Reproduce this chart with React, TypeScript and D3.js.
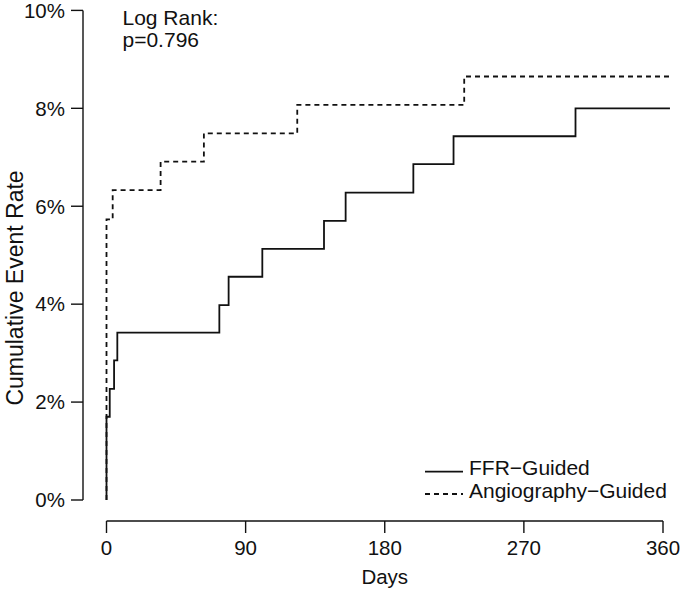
import React from "react";
import * as d3 from "d3";

// ---- Data ----
const ffrDays = [0, 2.1, 4.9, 7.0, 73, 79, 100.8, 140.7, 154.7, 198.5, 224.5, 303.4];
const ffrRates = [1.7, 2.27, 2.85, 3.42, 3.98, 4.56, 5.13, 5.7, 6.28, 6.86, 7.43, 8.0];
const ffrEnd = 364.5;

const angioDays = [0, 4.0, 35, 63, 123.4, 231.4];
const angioRates = [5.73, 6.33, 6.91, 7.49, 8.07, 8.65];
const angioEnd = 364;

const xTicks = [0, 90, 180, 270, 360];
const yTicks = [0, 2, 4, 6, 8, 10];
const yTickLabels = ["0%", "2%", "4%", "6%", "8%", "10%"];

const seriesNames = ["FFR\u2212Guided", "Angiography\u2212Guided"];
const annotation = ["Log Rank:", "p=0.796"];

const FONT = "'Liberation Sans', Arial, Helvetica, sans-serif";

function stepPoints(days: number[], rates: number[], end: number): [number, number][] {
  const pts: [number, number][] = [[0, 0]];
  days.forEach((d, i) => pts.push([d, rates[i]]));
  pts.push([end, rates[rates.length - 1]]);
  return pts;
}

export default function App() {
  const W = 681;
  const H = 591;
  const x = d3.scaleLinear().domain([0, 360]).range([106.5, 663]);
  const y = d3.scaleLinear().domain([0, 10]).range([500, 10.4]);
  const axisX = 83;
  const axisY = 521;
  const tickLen = 12;

  const line = d3
    .line<[number, number]>()
    .x((d) => x(d[0]))
    .y((d) => y(d[1]))
    .curve(d3.curveStepAfter);

  const ffrPath = line(stepPoints(ffrDays, ffrRates, ffrEnd)) || "";
  const angioPath = line(stepPoints(angioDays, angioRates, angioEnd)) || "";

  const stroke = "#111";
  const fs = 20.5;

  return (
    <svg
      width={W}
      height={H}
      style={{ position: "absolute", left: 0, top: 0, background: "#fff" }}
      fontFamily={FONT}
    >
      <rect x={0} y={0} width={W} height={H} fill="#fff" />
      {/* Y axis */}
      <line x1={axisX} x2={axisX} y1={y(0)} y2={y(10)} stroke={stroke} strokeWidth={1.4} />
      {yTicks.map((t, i) => (
        <g key={"yt" + t}>
          <line x1={axisX - tickLen} x2={axisX} y1={y(t)} y2={y(t)} stroke={stroke} strokeWidth={1.4} />
          <text x={65} y={y(t) + 7.3} textAnchor="end" fontSize={fs} fill="#111">
            {yTickLabels[i]}
          </text>
        </g>
      ))}
      <text
        transform={`translate(23, 288) rotate(-90)`}
        textAnchor="middle"
        fontSize={23}
        fill="#111"
      >
        Cumulative Event Rate
      </text>

      {/* X axis */}
      <line x1={x(0)} x2={x(360)} y1={axisY} y2={axisY} stroke={stroke} strokeWidth={1.4} />
      {xTicks.map((t) => (
        <g key={"xt" + t}>
          <line x1={x(t)} x2={x(t)} y1={axisY} y2={axisY + tickLen} stroke={stroke} strokeWidth={1.4} />
          <text x={x(t)} y={555} textAnchor="middle" fontSize={fs} fill="#111">
            {t}
          </text>
        </g>
      ))}
      <text x={(x(0) + x(360)) / 2} y={584} textAnchor="middle" fontSize={fs} fill="#111">
        Days
      </text>

      {/* Curves */}
      <path d={angioPath} fill="none" stroke={stroke} strokeWidth={1.8} strokeDasharray="5,4" />
      <path d={ffrPath} fill="none" stroke={stroke} strokeWidth={1.8} />

      {/* Annotation */}
      <text x={122.5} y={25} fontSize={21} fill="#111">
        {annotation[0]}
      </text>
      <text x={122.5} y={47} fontSize={21} fill="#111">
        {annotation[1]}
      </text>

      {/* Legend */}
      <line x1={425} x2={463} y1={471.7} y2={471.7} stroke={stroke} strokeWidth={1.8} />
      <text x={469} y={475} fontSize={21} fill="#111">
        {seriesNames[0]}
      </text>
      <line x1={425} x2={463} y1={494} y2={494} stroke={stroke} strokeWidth={1.8} strokeDasharray="5,4" />
      <text x={469} y={498} fontSize={21} fill="#111">
        {seriesNames[1]}
      </text>
    </svg>
  );
}
